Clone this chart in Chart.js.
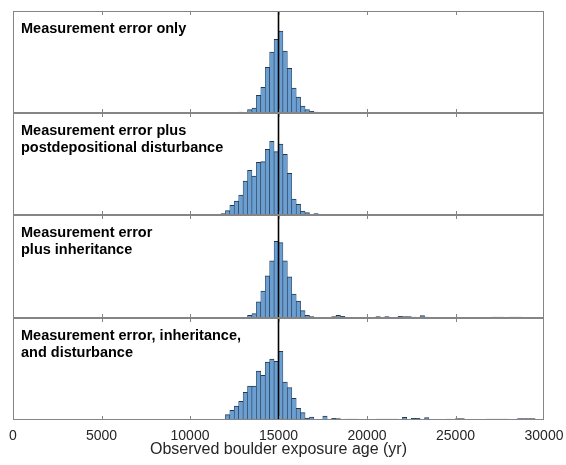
<!DOCTYPE html>
<html>
<head>
<meta charset="utf-8">
<script src="https://cdn.jsdelivr.net/npm/chart.js@4.4.0/dist/chart.umd.min.js"></script>
<style>
html, body { margin: 0; padding: 0; background: #fff; }
#wrap { position: relative; width: 566px; height: 465px; }
#wrap canvas { position: absolute; left: 0; }
</style>
</head>
<body>
<div id="wrap">
  <canvas id="p0" width="566"></canvas>
  <canvas id="p1" width="566"></canvas>
  <canvas id="p2" width="566"></canvas>
  <canvas id="p3" width="566"></canvas>
</div>
<script>
// histogram bins (yr)
const binWidth = 250;
const ageMax = 30000;
const trueAge = 15000;

const panelLabels = [
    ['Measurement error only'],
    ['Measurement error plus', 'postdepositional disturbance'],
    ['Measurement error', 'plus inheritance'],
    ['Measurement error, inheritance,', 'and disturbance']
];

// counts per 250-yr bin, starting at the given age
const errorOnlyStart = 12750;
const errorOnlyCounts = [3, 0, 10, 15, 53, 77, 137, 183, 221, 246, 186, 134, 75, 48, 21, 10, 5, 3];

const disturbanceStart = 11750;
const disturbanceCounts = [4, 13, 29, 42, 60, 102, 134, 117, 158, 160, 197, 221, 190, 213, 182, 125,
    48, 32, 12, 7, 0, 4];

const inheritanceStart = 13250;
const inheritanceCounts = [8, 13, 48, 80, 125, 170, 228, 224, 170, 122, 71, 50, 22, 8, 4,
    0, 0, 0, 0, 4, 8, 5, 0, 0, 0, 0, 0, 0, 0, 4, 0, 4, 0, 0, 5, 4, 4, 3, 0, 7, 3,
    0, 0, 2, 0, 2, 0, 0, 2, 2, 0, 0, 2, 0, 0, 3, 3, 3, 0, 3, 3, 3, 0, 0, 0, 2, 2];

const bothStart = 11750;
const bothCounts = [2, 16, 29, 42, 56, 83, 102, 102, 147, 134, 174, 183, 176, 206, 114, 97, 65, 35, 22, 6, 9, 2,
    0, 12, 0, 5, 4, 0, 3, 3, 3, 0, 0, 2, 0, 3, 3, 3, 3, 3, 0, 8, 0, 5, 5, 0, 7,
    0, 0, 0, 0, 3, 0, 4, 4, 0, 0, 0, 2, 0, 3, 3, 3, 3, 3, 0, 0, 4, 4, 4, 4, 2, 2];

const yMax = 306;

const binLabels = Array.from({ length: ageMax / binWidth }, (_, i) => i * binWidth);

function toBins(start, counts) {
    const out = new Array(binLabels.length).fill(null);
    counts.forEach((c, i) => {
        const k = start / binWidth + i;
        if (c > 0) out[k] = c;
    });
    return out;
}

const panelData = [
    toBins(errorOnlyStart, errorOnlyCounts),
    toBins(disturbanceStart, disturbanceCounts),
    toBins(inheritanceStart, inheritanceCounts),
    toBins(bothStart, bothCounts)
];

const panelTops = [11, 113, 215, 318];
const panelBottom = 420;
const axisHeight = 45;

function panelPlugin(idx) {
    return {
        id: 'panelDecor' + idx,
        afterDatasetsDraw(chart) {
            const { ctx, chartArea } = chart;
            const xs = chart.scales.x2;
            const l = chartArea.left, r = chartArea.right, t = chartArea.top, b = chartArea.bottom;
            ctx.save();
            // true age line
            const xl = xs.getPixelForValue(trueAge);
            ctx.strokeStyle = '#000';
            ctx.lineWidth = 1.6;
            ctx.beginPath();
            ctx.moveTo(xl, t);
            ctx.lineTo(xl, b);
            ctx.stroke();
            // frame
            ctx.strokeStyle = '#858585';
            ctx.lineWidth = 1;
            ctx.strokeRect(l + 0.5, t + 0.5, r - l - 1, b - t - 1);
            // inward ticks
            ctx.beginPath();
            for (let v = 5000; v < ageMax; v += 5000) {
                const x = Math.round(xs.getPixelForValue(v)) + 0.5;
                ctx.moveTo(x, t);
                ctx.lineTo(x, t + 4);
                ctx.moveTo(x, b);
                ctx.lineTo(x, b - 4);
            }
            ctx.stroke();
            // panel label
            ctx.fillStyle = '#000';
            ctx.font = 'bold 14.5px "Liberation Sans", Arial, sans-serif';
            ctx.textBaseline = 'alphabetic';
            panelLabels[idx].forEach((line, j) => {
                ctx.fillText(line, l + 8, t + 22 + j * 17);
            });
            ctx.restore();
        }
    };
}

panelData.forEach((bins, idx) => {
    const last = idx === panelData.length - 1;
    const canvas = document.getElementById('p' + idx);
    const top = panelTops[idx];
    const bottom = last ? panelBottom : panelTops[idx + 1];
    const h = (bottom - top) + 1 + (last ? axisHeight : 1);
    canvas.style.top = (top - 1) + 'px';
    canvas.height = h;
    canvas.style.width = '566px';
    canvas.style.height = h + 'px';

    new Chart(canvas.getContext('2d'), {
        type: 'bar',
        data: {
            labels: binLabels,
            datasets: [{
                data: bins,
                backgroundColor: '#6c9fd1',
                borderColor: '#23384f',
                borderWidth: { top: 1, left: 0.6, right: 0.6, bottom: 0 },
                borderSkipped: 'start',
                barPercentage: 1,
                categoryPercentage: 1
            }]
        },
        options: {
            responsive: false,
            maintainAspectRatio: false,
            animation: false,
            devicePixelRatio: 1,
            layout: { padding: { left: 13, right: 22, top: 1, bottom: last ? 0 : 1 } },
            plugins: { legend: { display: false }, tooltip: { enabled: false } },
            scales: {
                x: { type: 'category', display: false, offset: true },
                x2: {
                    type: 'linear',
                    position: 'bottom',
                    min: 0,
                    max: ageMax,
                    offset: false,
                    display: last,
                    grid: { display: false, drawTicks: false, offset: false },
                    border: { display: false },
                    ticks: {
                        stepSize: 5000,
                        padding: 8,
                        color: '#262626',
                        font: { family: '"Liberation Sans", Arial, sans-serif', size: 14 },
                        maxRotation: 0,
                        callback: v => String(v)
                    },
                    title: {
                        display: true,
                        text: 'Observed boulder exposure age (yr)',
                        color: '#262626',
                        font: { family: '"Liberation Sans", Arial, sans-serif', size: 16 },
                        padding: { top: 2, bottom: 6 }
                    },
                    afterFit(scale) {
                        scale.paddingLeft = 0;
                        scale.paddingRight = 0;
                        if (last) scale.height = axisHeight;
                    }
                },
                y: { min: 0, max: yMax, display: false }
            }
        },
        plugins: [panelPlugin(idx)]
    });
});
</script>
</body>
</html>
